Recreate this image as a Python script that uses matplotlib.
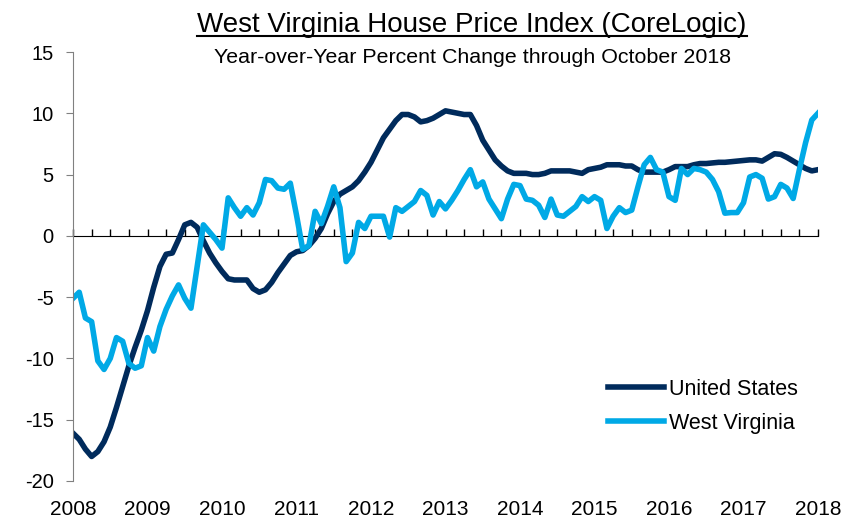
import numpy as np
import matplotlib
matplotlib.use('Agg')
from matplotlib import pyplot as plt
from matplotlib.lines import Line2D

plt.rcParams['font.family'] = ['Liberation Sans', 'DejaVu Sans']
plt.rcParams['axes.unicode_minus'] = False

title = 'West Virginia House Price Index (CoreLogic)'
subtitle = 'Year-over-Year Percent Change through October 2018'
years = ['2008', '2009', '2010', '2011', '2012', '2013', '2014', '2015', '2016', '2017', '2018']

# monthly yoy % change
us = [-16.1, -16.6, -17.4, -18.0, -17.6, -16.8, -15.6, -14.0, -12.3, -10.6,
      -9.1, -7.7, -6.1, -4.2, -2.5, -1.5, -1.4, -0.3, 0.9, 1.1,
      0.7, -0.4, -1.4, -2.2, -2.9, -3.5, -3.6, -3.6, -3.6, -4.3,
      -4.6, -4.4, -3.8, -3.0, -2.3, -1.6, -1.3, -1.2, -0.8, -0.2,
      0.6, 1.8, 2.8, 3.4, 3.7, 4.0, 4.5, 5.2, 6.0, 7.0,
      8.0, 8.7, 9.4, 9.9, 9.9, 9.7, 9.3, 9.4, 9.6, 9.9,
      10.2, 10.1, 10.0, 9.9, 9.9, 9.0, 7.8, 7.0, 6.2, 5.7,
      5.3, 5.1, 5.1, 5.1, 5.0, 5.0, 5.1, 5.3, 5.3, 5.3,
      5.3, 5.2, 5.1, 5.4, 5.5, 5.6, 5.8, 5.8, 5.8, 5.7,
      5.7, 5.4, 5.2, 5.2, 5.2, 5.2, 5.4, 5.65, 5.65, 5.65,
      5.8, 5.9, 5.9, 5.95, 6.0, 6.0, 6.05, 6.1, 6.15, 6.2,
      6.2, 6.1, 6.4, 6.7, 6.65, 6.4, 6.1, 5.8, 5.5, 5.3,
      5.4]
wv = [-5.1, -4.6, -6.7, -7.0, -10.2, -10.9, -10.0, -8.3, -8.6, -10.4,
      -10.8, -10.6, -8.3, -9.4, -7.4, -6.0, -4.9, -4.0, -5.1, -5.9,
      -2.5, 0.9, 0.3, -0.3, -1.0, 3.1, 2.3, 1.6, 2.3, 1.7,
      2.7, 4.6, 4.5, 3.9, 3.8, 4.3, 1.7, -1.1, -0.8, 2.0,
      1.0, 2.4, 4.0, 2.3, -2.1, -1.4, 1.1, 0.6, 1.6, 1.6,
      1.6, -0.1, 2.3, 2.0, 2.4, 2.8, 3.7, 3.3, 1.7, 2.8,
      2.2, 2.9, 3.7, 4.6, 5.4, 4.0, 4.4, 3.0, 2.2, 1.4,
      3.0, 4.2, 4.1, 3.0, 2.9, 2.5, 1.5, 3.0, 1.7, 1.6,
      2.0, 2.4, 3.2, 2.8, 3.2, 2.9, 0.6, 1.6, 2.3, 1.9,
      2.1, 4.0, 5.8, 6.4, 5.4, 5.2, 3.2, 2.9, 5.5, 5.0,
      5.5, 5.4, 5.2, 4.6, 3.6, 1.85, 1.9, 1.9, 2.7, 4.8,
      5.0, 4.7, 3.0, 3.2, 4.2, 3.9, 3.05, 5.4, 7.6, 9.45,
      10.0]

navy = '#002B5C'
light = '#00A9E6'
ymin, ymax = -20, 15

fig = plt.figure(figsize=(8.58, 5.18), dpi=100)
ax = fig.add_axes([73/858, 1-481/518, 745/858, 429/518])

x = np.arange(len(us))
ax.plot(x, us, color=navy, lw=4, label='United States')
ax.plot(x, wv, color=light, lw=4, label='West Virginia')

ax.set_xlim(0, len(us)-1)
ax.set_ylim(ymin, ymax)
ax.set_yticks(np.arange(ymin, ymax+1, 5))
ax.set_xticks(np.arange(0, len(us), 12))
ax.set_xticklabels(years)

for s in ['top', 'right', 'bottom']:
    ax.spines[s].set_visible(False)
ax.spines['left'].set_color('#808080')
ax.tick_params(axis='y', direction='out', length=5, color='#808080', pad=9, labelsize=14.5)
ax.tick_params(axis='x', length=0, pad=14, labelsize=15)

# zero line with quarterly ticks
sec = ax.secondary_xaxis((0-ymin)/(ymax-ymin))
sec.set_xticks(np.arange(0, len(us), 3))
sec.set_xticklabels([])
sec.tick_params(axis='x', direction='out', length=5, color='black', width=1)
sec.spines['bottom'].set_linewidth(1.2)

leg = ax.legend(loc='upper left', bbox_to_anchor=(608/858, 1-379/518), bbox_transform=fig.transFigure,
                frameon=False, fontsize=15.5, handlelength=2.6, handletextpad=0.25,
                labelspacing=0.6, borderpad=0, borderaxespad=0)

t = fig.text(472/858, 1-31.7/518, title, ha='center', va='baseline', fontsize=20)
fig.text(472/858, 1-62.7/518, subtitle, ha='center', va='baseline', fontsize=15.4)

# underline the title
fig.canvas.draw()
bb = t.get_window_extent()
uy = (518-35.5)/518
fig.add_artist(Line2D([bb.x0/858, bb.x1/858], [uy, uy], color='black', lw=1.5,
                      transform=fig.transFigure))

fig.savefig('out.png', dpi=100)
